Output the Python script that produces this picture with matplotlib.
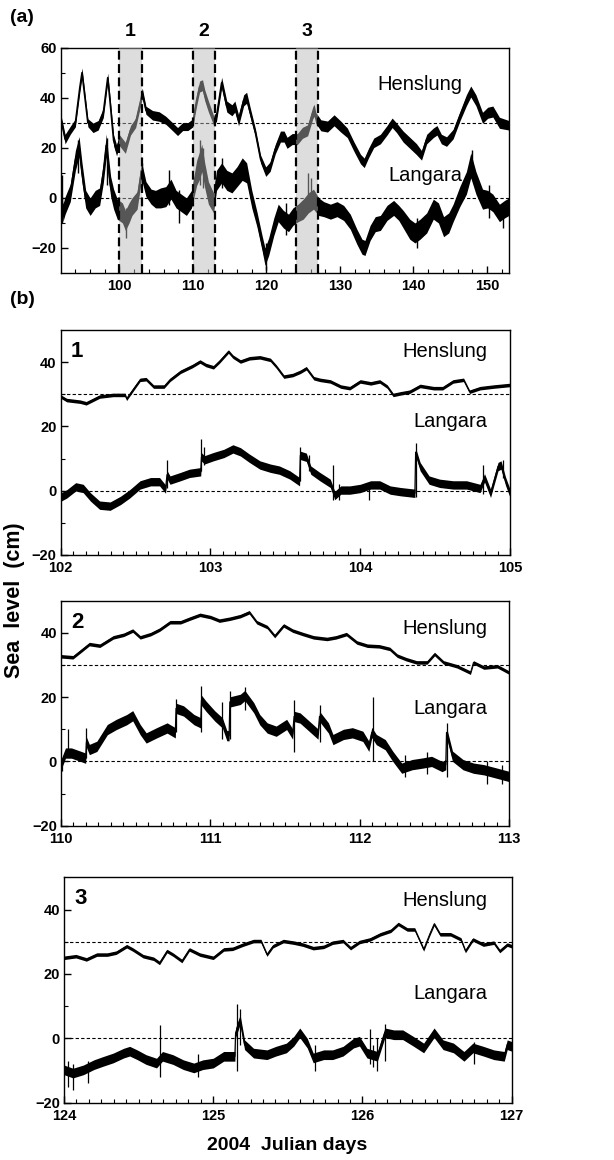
import matplotlib
matplotlib.use("Agg")
import matplotlib.pyplot as plt
import numpy as np

plt.rcParams['font.family'] = ['Liberation Sans', 'DejaVu Sans']

# ---------------- (a) full record, days 92-153 ----------------
hen_a_days = [92.0, 92.6, 93.3, 94.0, 94.6, 94.9, 95.3, 95.7, 96.4, 97.1, 97.8, 98.4, 98.7,
              99.2, 99.6, 100.0, 100.8, 101.5, 102.2, 102.9, 103.1, 103.6, 104.5, 105.4,
              106.3, 107.2, 107.9, 108.6, 109.3, 110.0, 110.2, 110.5, 110.9, 111.3, 111.6,
              112.1, 112.8, 113.2, 113.9, 114.6, 115.3, 115.7, 116.2, 116.9, 117.3, 117.8,
              118.5, 119.2, 119.9, 120.5, 121.2, 121.9, 122.4, 122.8, 123.5, 124.2, 124.9,
              125.6, 126.3, 126.5, 126.7, 127.4, 128.3, 129.2, 130.1, 131.0, 131.9, 132.8,
              133.3, 133.9, 134.6, 135.5, 136.4, 137.1, 137.7, 138.6, 139.5, 140.4, 141.1,
              141.8, 142.7, 143.2, 143.8, 144.5, 145.4, 146.3, 147.2, 147.8, 148.5, 149.4,
              150.1, 150.8, 151.7, 153.0]
hen_a_vals = [32, 23.5, 27, 30, 44, 50, 40, 30, 28, 29, 34, 48, 39,
              23, 19, 23, 20, 27, 30, 39, 42, 35, 33, 32.5,
              31, 28.5, 26.5, 28.5, 28.5, 30, 34, 39, 44.5, 45, 41,
              36.5, 31, 32.5, 46, 36.5, 35, 36.5, 31, 39, 40, 34,
              26, 15.5, 10.5, 12.5, 19.5, 24.5, 24.5, 22, 23.5, 23.5, 26,
              27, 34, 35, 32, 29, 28.5, 31, 28.5, 26, 20.5, 15.5,
              14, 18, 22, 23.5, 27, 30, 28, 24.5, 22, 19.5, 17,
              23.5, 26, 27, 23.5, 22.5, 25.5, 32.5, 39, 42.5, 39, 32,
              34, 34.5, 30, 29]
hen_a_spread = [1.6, 1.9, 1.6, 1.6, 1.9, 1.9, 1.9, 1.6, 1.9, 1.9, 1.9, 1.9, 1.9,
                2.2, 2.2, 2.2, 2.2, 1.9, 1.9, 1.9, 1.9, 1.6, 1.9, 1.9,
                1.6, 1.6, 1.6, 1.6, 1.6, 1.6, 1.9, 2.2, 2.2, 2.2, 2.2,
                2.2, 1.9, 1.9, 2.2, 2.2, 2.2, 2.2, 2.2, 2.2, 2.2, 1.9,
                1.6, 1.6, 1.9, 1.9, 1.9, 2.2, 2.2, 2.2, 2.2, 2.2, 2.2,
                2.2, 2.4, 2.4, 2.2, 2.2, 2.2, 2.2, 2.2, 1.9, 1.9, 1.9,
                1.9, 1.9, 1.9, 1.9, 1.9, 1.9, 1.9, 2.2, 2.2, 2.2, 1.9,
                1.9, 1.9, 1.9, 1.9, 1.9, 1.9, 1.9, 2.2, 2.2, 2.2, 2.2,
                2.2, 2.2, 2.2, 1.9]

lan_a_days = [92.0, 92.3, 92.6, 93.3, 94.0, 94.5, 94.9, 95.4, 96.0, 96.7, 97.3, 97.8, 98.2,
              98.5, 98.8, 99.2, 99.7, 100.4, 100.8, 101.3, 101.7, 102.4, 103.0, 103.6,
              104.3, 104.9, 105.6, 106.3, 107.0, 107.7, 108.4, 109.1, 109.8, 110.5, 110.9,
              111.2, 111.6, 112.1, 112.8, 113.2, 113.9, 114.6, 115.3, 116.0, 116.7, 117.3,
              118.0, 118.7, 119.4, 119.8, 120.3, 121.0, 121.6, 122.3, 123.0, 123.6, 124.3,
              125.0, 125.7, 126.4, 127.1, 127.8, 128.7, 129.6, 130.5, 131.4, 132.3, 133.0,
              133.4, 134.1, 134.8, 135.5, 136.4, 137.3, 138.0, 138.6, 139.5, 140.2, 140.9,
              141.8, 142.7, 143.4, 144.1, 144.8, 145.4, 146.3, 147.2, 147.8, 148.5, 149.4,
              150.1, 150.8, 151.7, 152.4, 153.0]
lan_a_vals = [7, -6, -3, 2, 15, 20.5, 10, -0.5, -3.5, -0.5, 0.5, 10, 21,
              12, 4.5, -0.5, -4.5, -6, -9, -6, -3.5, -1, 11, 3.5,
              0.5, -0.5, 0, 0.5, 3.5, -0.5, -2, -3.5, -0.5, 10, 13,
              16, 9, 2, -2, 7, 10, 7, 6, 8.5, 11.5, 10,
              -0.5, -8.5, -18, -23.5, -19.5, -11.5, -6, -8.5, -10, -7.5, -6,
              -4.5, -2, -0.5, -3.5, -4.5, -5.5, -4.5, -6, -9.5, -15.5, -19.5,
              -20, -14, -10.5, -10, -6, -4, -6, -8.5, -12.5, -14, -12.5,
              -10, -4.5, -6, -11.5, -10, -6, 0.5, 6, 13, 6, -0.5,
              -0.5, -2, -6, -4.5, -3.5]
lan_a_spread = [3.5, 3.5, 3.5, 3.5, 4.0, 4.0, 4.0, 3.5, 3.5, 3.5, 3.5, 4.0, 4.5,
                4.5, 4.0, 4.0, 4.0, 4.0, 4.0, 4.0, 3.5, 3.5, 3.5, 3.0,
                3.0, 3.5, 4.0, 4.0, 4.0, 3.5, 3.5, 3.5, 3.5, 5.0, 5.5,
                5.5, 5.0, 4.5, 4.0, 4.0, 4.0, 4.0, 4.0, 4.0, 4.5, 4.0,
                3.5, 3.0, 3.0, 3.5, 3.5, 3.5, 3.5, 3.5, 3.5, 3.5, 3.5,
                4.0, 4.0, 4.0, 3.5, 3.0, 3.0, 3.0, 3.0, 3.0, 3.0, 3.0,
                3.0, 3.0, 3.0, 3.0, 3.0, 3.0, 3.0, 3.5, 4.0, 4.0, 4.0,
                4.0, 4.0, 4.0, 4.0, 4.0, 3.5, 4.0, 4.5, 5.0, 4.5, 4.0,
                3.5, 3.5, 3.5, 3.5, 3.5]
lan_a_spike_days = [92.2, 94.4, 98.3, 100.9, 103.0, 106.8, 108.1, 111.0, 111.4, 113.9,
                    119.9, 122.7, 125.6, 126.1, 140.5, 147.9, 150.3, 152.2]
lan_a_spike_lo = [-10, 10, 5, -16, 5, -3, -10, 5, 4, 4,
                  -29, -15, -3, -3, -20, 8, -8, -12]
lan_a_spike_hi = [9, 23, 24, -4, 14, 11, 3, 23, 20, 16,
                  -18, -2, 10, 8, -8, 19, 5, -2]

boxes = [(100, 103, '1'), (110, 113, '2'), (124, 127, '3')]

# ---------------- (b) detail windows ----------------
hen1_days = [102.00, 102.04, 102.13, 102.17, 102.26, 102.35, 102.43, 102.44, 102.49, 102.53,
             102.57, 102.62, 102.69, 102.73, 102.80, 102.88, 102.93, 102.97, 103.02, 103.06,
             103.12, 103.15, 103.20, 103.26, 103.33, 103.40, 103.44, 103.49, 103.55, 103.60,
             103.64, 103.69, 103.73, 103.80, 103.87, 103.93, 104.00, 104.07, 104.13, 104.18,
             104.22, 104.27, 104.33, 104.40, 104.49, 104.55, 104.62, 104.69, 104.73, 104.80,
             104.89, 105.00]
hen1_vals = [29.3, 28.2, 27.7, 27.2, 29.3, 29.8, 29.8, 28.6, 31.9, 34.5,
             34.7, 32.4, 32.4, 34.5, 37.0, 38.8, 40.2, 39.1, 38.4, 40.2,
             43.3, 41.7, 40.2, 41.2, 41.5, 40.7, 38.6, 35.5, 36.0, 37.0,
             38.1, 35.0, 34.5, 34.0, 32.4, 31.9, 34.0, 33.4, 34.0, 32.4,
             29.8, 30.3, 30.8, 32.6, 31.9, 31.9, 34.0, 34.5, 30.8, 31.9,
             32.4, 32.9]
lan1_days = [102.00, 102.04, 102.10, 102.15, 102.20, 102.26, 102.33, 102.40, 102.46, 102.53,
             102.60, 102.66, 102.70, 102.71, 102.73, 102.80, 102.86, 102.935, 102.94, 102.96,
             103.02, 103.09, 103.15, 103.20, 103.26, 103.33, 103.40, 103.46, 103.53, 103.595,
             103.60, 103.64, 103.67, 103.73, 103.80, 103.83, 103.87, 103.93, 104.00, 104.07,
             104.13, 104.20, 104.27, 104.365, 104.37, 104.40, 104.46, 104.53, 104.62, 104.71,
             104.80, 104.83, 104.87, 104.92, 104.94, 104.97, 105.00]
lan1_vals = [-2.0, -1.0, 1.2, 0.7, -2.0, -4.5, -4.8, -3.0, -1.0, 1.8,
             2.8, 2.8, 0.5, 5.0, 3.3, 4.4, 5.4, 5.9, 10.5, 9.6,
             10.6, 11.6, 13.0, 12.1, 10.1, 8.0, 7.0, 6.4, 4.9, 2.8,
             11.0, 10.4, 6.4, 4.4, 2.3, -1.5, 0.2, 0.2, 0.7, 1.8,
             1.8, 0.2, -0.3, -0.8, 12.0, 7.5, 3.3, 2.3, 1.8, 1.8,
             0.7, 4.0, -0.8, 7.5, 8.0, 3.0, -0.8]
lan1_spike_days = [102.71, 102.94, 102.96, 103.60, 103.66, 103.82, 103.86, 104.06, 104.37,
                   104.82, 104.95]
lan1_spike_lo = [1, 6, 8, 3, 6, -3, -3, -3, -2, -1, 4]
lan1_spike_hi = [9.5, 16, 13.5, 13.5, 11, 8, 2, 2, 15, 8, 9.5]

hen2_days = [110.00, 110.08, 110.15, 110.19, 110.26, 110.35, 110.42, 110.48, 110.53, 110.60,
             110.66, 110.73, 110.80, 110.86, 110.93, 111.00, 111.06, 111.13, 111.20, 111.26,
             111.31, 111.38, 111.43, 111.49, 111.55, 111.62, 111.69, 111.78, 111.84, 111.91,
             111.98, 112.05, 112.13, 112.20, 112.25, 112.31, 112.38, 112.45, 112.50, 112.56,
             112.65, 112.74, 112.76, 112.83, 112.92, 113.00]
hen2_vals = [32.7, 32.4, 35.0, 36.5, 36.0, 38.6, 39.4, 40.7, 38.6, 39.6,
             41.0, 43.3, 43.3, 44.4, 45.6, 44.9, 43.8, 44.4, 45.2, 46.4,
             43.3, 41.8, 39.0, 42.3, 40.7, 39.6, 38.6, 38.1, 38.6, 39.6,
             37.0, 36.0, 35.8, 35.0, 32.9, 31.8, 30.8, 30.8, 33.4, 30.8,
             29.6, 27.6, 30.8, 29.2, 29.6, 27.6]
lan2_days = [110.00, 110.03, 110.07, 110.13, 110.165, 110.17, 110.19, 110.24, 110.31, 110.37,
             110.44, 110.48, 110.53, 110.57, 110.64, 110.71, 110.765, 110.77, 110.82, 110.89,
             110.935, 110.94, 110.97, 111.03, 111.08, 111.11, 111.125, 111.13, 111.20, 111.23,
             111.29, 111.33, 111.38, 111.44, 111.51, 111.55, 111.56, 111.60, 111.66, 111.72,
             111.73, 111.79, 111.82, 111.89, 111.95, 112.02, 112.06, 112.08, 112.11, 112.17,
             112.22, 112.28, 112.35, 112.42, 112.48, 112.55, 112.575, 112.58, 112.62, 112.69,
             112.76, 112.83, 112.92, 113.00]
lan2_vals = [-1.0, 2.6, 2.6, 1.6, 1.0, 6.0, 3.7, 4.7, 9.9, 11.5,
             13.0, 14.2, 9.9, 7.3, 8.9, 10.4, 8.9, 16.5, 15.7, 13.0,
             12.0, 19.0, 17.2, 14.1, 12.0, 8.0, 8.0, 18.5, 19.3, 20.5,
             16.7, 13.0, 10.4, 9.4, 11.5, 8.5, 14.0, 13.5, 11.0, 8.5,
             14.0, 10.4, 6.8, 8.4, 8.9, 7.8, 4.7, 9.0, 6.8, 5.2,
             1.6, -2.1, -1.0, -0.5, 0.0, -1.6, -1.0, 9.0, 1.6, -1.0,
             -2.1, -2.6, -3.7, -4.7]
lan2_spike_days = [110.01, 110.05, 110.17, 110.77, 110.94, 111.08, 111.13, 111.23, 111.56,
                   111.73, 112.09, 112.30, 112.45, 112.58, 112.85, 112.95]
lan2_spike_lo = [-3, 2, 1, 9, 9, 7, 7, 16, 3, 6, 0, -5, -4, -5, -7, -7]
lan2_spike_hi = [0.5, 10, 10.5, 19.5, 23.5, 18.5, 22, 23, 19, 17.5, 20, 2, 3, 12, 0, -1]

hen3_days = [124.00, 124.08, 124.15, 124.22, 124.29, 124.35, 124.42, 124.46, 124.53, 124.60,
             124.64, 124.69, 124.73, 124.79, 124.84, 124.91, 125.00, 125.07, 125.13, 125.20,
             125.27, 125.32, 125.36, 125.40, 125.47, 125.54, 125.60, 125.67, 125.74, 125.80,
             125.87, 125.92, 125.98, 126.05, 126.12, 126.19, 126.24, 126.30, 126.35, 126.39,
             126.41, 126.45, 126.48, 126.52, 126.59, 126.66, 126.69, 126.74, 126.81, 126.88,
             126.92, 126.97, 127.00]
hen3_vals = [25.0, 25.5, 24.5, 26.0, 26.0, 26.6, 28.6, 27.6, 25.5, 24.7,
             23.4, 27.1, 26.0, 24.0, 27.6, 26.0, 25.0, 27.6, 27.8, 29.1,
             30.2, 30.2, 26.0, 28.6, 30.2, 29.7, 29.1, 28.0, 28.4, 29.7,
             30.2, 28.0, 29.9, 30.7, 32.3, 33.4, 35.5, 33.8, 33.8, 29.7,
             27.6, 32.3, 35.5, 32.3, 32.3, 30.7, 27.1, 30.7, 29.1, 29.7,
             27.1, 29.1, 28.6]
lan3_days = [124.00, 124.06, 124.13, 124.20, 124.26, 124.33, 124.40, 124.44, 124.49, 124.55,
             124.62, 124.66, 124.73, 124.80, 124.87, 124.93, 125.00, 125.07, 125.145, 125.15,
             125.18, 125.21, 125.27, 125.36, 125.42, 125.49, 125.54, 125.58, 125.63, 125.67,
             125.74, 125.80, 125.87, 125.94, 125.98, 126.03, 126.10, 126.15, 126.21, 126.27,
             126.34, 126.41, 126.48, 126.54, 126.61, 126.68, 126.74, 126.81, 126.88, 126.95,
             126.97, 127.00]
lan3_vals = [-9.8, -10.8, -9.8, -8.2, -7.2, -6.1, -4.6, -4.0, -5.1, -6.6,
             -7.7, -5.6, -6.6, -8.2, -9.2, -8.2, -7.7, -5.6, -5.6, 1.7,
             5.8, -2.0, -4.6, -5.1, -4.0, -3.0, -0.9, 1.7, -1.5, -6.1,
             -5.1, -5.1, -4.0, -1.5, -0.9, -4.6, -5.6, 1.7, 1.1, 1.1,
             -0.9, -3.0, 1.7, -2.0, -3.0, -5.6, -3.0, -4.0, -5.1, -5.6,
             -2.0, -2.5]
lan3_spike_days = [124.03, 124.06, 124.16, 124.64, 124.90, 125.16, 125.18, 125.68, 126.05,
                   126.07, 126.10, 126.15, 126.75]
lan3_spike_lo = [-15, -16, -14, -12, -12, -10, -2, -10, -8, -9, -10, -7, -8]
lan3_spike_hi = [-7, -8, -7, 4, -5, 10.5, 9, -2, 3, -2, 0, 4.5, -1]

hen_detail_spread = 0.55
lan_detail_spread = [1.3, 1.6, 1.5]

details = [
    ((102, 105), '1', hen1_days, hen1_vals, lan1_days, lan1_vals,
     lan1_spike_days, lan1_spike_lo, lan1_spike_hi),
    ((110, 113), '2', hen2_days, hen2_vals, lan2_days, lan2_vals,
     lan2_spike_days, lan2_spike_lo, lan2_spike_hi),
    ((124, 127), '3', hen3_days, hen3_vals, lan3_days, lan3_vals,
     lan3_spike_days, lan3_spike_lo, lan3_spike_hi),
]

# ---------------- figure ----------------
W, H = 614, 1160
fig = plt.figure(figsize=(W / 100, H / 100), dpi=100)


def rect(left, top, right, bottom):
    return [left / W, 1 - bottom / H, (right - left) / W, (bottom - top) / H]


def band(ax, x, y, s, lw):
    x = np.asarray(x)
    y = np.asarray(y, dtype=float)
    s = np.broadcast_to(np.asarray(s, dtype=float), y.shape)
    ax.fill_between(x, y - s, y + s, color='black', lw=0, zorder=2)
    ax.plot(x, y, color='black', lw=lw, zorder=2)


def style(ax):
    for sp in ax.spines.values():
        sp.set_linewidth(1.0)
    ax.tick_params(which='both', direction='in', top=False, right=False,
                   labelsize=10.5)
    ax.tick_params(axis='x', pad=4.5)
    ax.tick_params(axis='y', pad=3)
    ax.tick_params(which='major', length=5, width=1)
    ax.tick_params(which='minor', length=3, width=0.8)
    for lab in ax.get_xticklabels() + ax.get_yticklabels():
        lab.set_fontweight('bold')


# panel (a)
ax = fig.add_axes(rect(60.7, 47.7, 509, 273))
band(ax, hen_a_days, hen_a_vals, hen_a_spread, 1.2)
band(ax, lan_a_days, lan_a_vals, lan_a_spread, 1.2)
ax.vlines(lan_a_spike_days, lan_a_spike_lo, lan_a_spike_hi, color='black', lw=1.0, zorder=2)
for ref in (30, 0):
    ax.axhline(ref, color='black', lw=0.8, ls=(0, (3, 2)), zorder=2.5)
for x0, x1, name in boxes:
    ax.axvspan(x0, x1, facecolor='#b8b8b8', alpha=0.47, lw=0, zorder=3)
    for xv in (x0, x1):
        ax.axvline(xv, color='black', lw=1.6, ls=(0, (4, 2)), zorder=4)
    ax.text((x0 + x1) / 2, 66.3, name, ha='center', va='center',
            fontsize=14, fontweight='bold')
ax.set_xlim(92, 153)
ax.set_ylim(-30, 60)
ax.set_xticks(np.arange(100, 151, 10))
ax.set_xticks(np.arange(94, 153, 2), minor=True)
ax.set_yticks([-20, 0, 20, 40, 60])
ax.set_yticks([-10, 10, 30, 50], minor=True)
ax.text(146.7, 45.1, 'Henslung', ha='right', va='center', fontsize=14.5)
ax.text(146.7, 9.1, 'Langara', ha='right', va='center', fontsize=14.5)
style(ax)

# panels (b) 1-3
detail_rects = [rect(60.7, 330, 510, 555), rect(61, 600.7, 509.3, 825.7),
                rect(64, 877.3, 511.7, 1102.7)]
label_pos = [(0.949, 0.904, 0.592), (0.952, 0.877, 0.522), (0.945, 0.899, 0.485)]
for i, (xl, name, hd, hv, ld, lv, sd, slo, shi) in enumerate(details):
    ax = fig.add_axes(detail_rects[i])
    band(ax, hd, hv, hen_detail_spread, 0.7)
    band(ax, ld, lv, lan_detail_spread[i], 0.9)
    ax.vlines(sd, slo, shi, color='black', lw=0.9, zorder=2)
    for ref in (30, 0):
        ax.axhline(ref, color='black', lw=0.8, ls=(0, (3, 2)), zorder=2.5)
    ax.set_xlim(*xl)
    ax.set_ylim(-20, 50)
    ax.set_xticks(np.arange(xl[0], xl[1] + 1))
    ax.set_xticks(np.arange(xl[0], xl[1] + 1e-6, 1 / 12), minor=True)
    ax.set_yticks([-20, 0, 20, 40])
    ax.set_yticks([-10, 10, 30], minor=True)
    xr, yh, yl = label_pos[i]
    ax.text(xr, yh, 'Henslung', transform=ax.transAxes, ha='right', va='center', fontsize=14.5)
    ax.text(xr, yl, 'Langara', transform=ax.transAxes, ha='right', va='center', fontsize=14.5)
    ax.text(0.023, 0.905, name, transform=ax.transAxes, ha='left', va='center',
            fontsize=16, fontweight='bold')
    style(ax)

fig.text(22 / W, 1 - 18 / H, '(a)', ha='center', va='center', fontsize=14, fontweight='bold')
fig.text(22 / W, 1 - 300 / H, '(b)', ha='center', va='center', fontsize=14, fontweight='bold')
fig.text(14.5 / W, 1 - 600 / H, 'Sea  level  (cm)', rotation=90, ha='center', va='center',
         fontsize=15.5, fontweight='bold')
fig.text(287.5 / W, 1 - 1145 / H, '2004  Julian days', ha='center', va='center',
         fontsize=14, fontweight='bold')

fig.savefig('out.png', dpi=100)
